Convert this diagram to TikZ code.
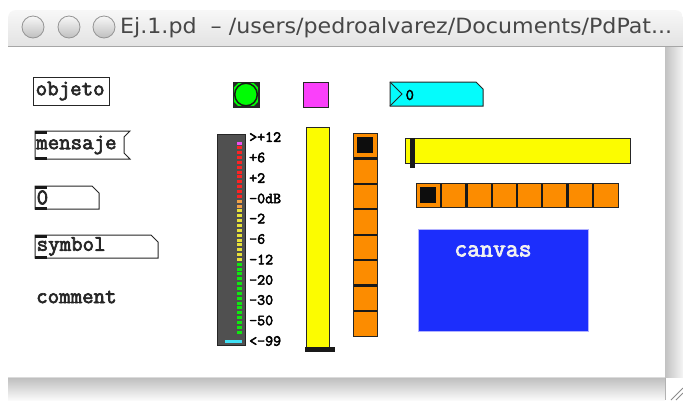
\documentclass[tikz,border=0pt]{standalone}
\usepackage{fontspec}
\usepackage{graphicx}
\newfontfamily\titlefont{DejaVu Sans}
\newfontfamily\pdfont{Latin Modern Mono}[FakeBold=3]

\definecolor{pdgreen}{RGB}{0,252,4}
\definecolor{pdmagenta}{RGB}{250,64,250}
\definecolor{pdcyan}{RGB}{4,252,252}
\definecolor{pdyellow}{RGB}{252,252,0}
\definecolor{pdorange}{RGB}{252,140,0}
\definecolor{pdblue}{RGB}{28,46,252}
\definecolor{vugray}{RGB}{80,80,80}
\definecolor{ledred}{RGB}{252,36,36}
\definecolor{ledorange}{RGB}{244,160,72}
\definecolor{ledyellow}{RGB}{232,226,56}
\definecolor{ledgreen}{RGB}{16,232,16}
\definecolor{ledtop}{RGB}{240,80,240}
\definecolor{ledcyan}{RGB}{64,224,244}

\tikzset{
  pdbox/.style={draw=black!85, line width=1pt},
  pdtext/.style={font=\pdfont\fontsize{22.3}{23}\selectfont, inner sep=0pt, anchor=west, text=black!85},
  vulabel/.style={font=\pdfont\fontsize{15.5}{16}\selectfont, inner sep=0pt, anchor=west},
  knob/.style={fill=black!90},
  separator/.style={draw=black!90, line width=2.2pt},
  winbutton/.style={draw=black!42, line width=0.8pt, top color=black!3, bottom color=black!25},
}

\begin{document}
\begin{tikzpicture}[x=1pt, y=-1pt]
\useasboundingbox (0,0) rectangle (683,400);
\fill[white] (0,0) rectangle (683,400);

% window title bar
\shade[top color=black!3, bottom color=black!11]
  (8,46) [rounded corners=8pt] -- (8,10) -- (683,10) [sharp corners] -- (683,46) -- cycle;
\draw[black!35] (8,46.5) -- (683,46.5);
\draw[winbutton] (33,27) circle[radius=11pt];
\draw[winbutton] (69,27) circle[radius=11pt];
\draw[winbutton] (104,27) circle[radius=11pt];
\node[anchor=west, inner sep=0pt, text=black!72] (title) at (120,28)
  {\resizebox{552pt}{\height}{\titlefont\fontsize{21}{21}\selectfont Ej.1.pd\ \ – /users/pedroalvarez/Documents/PdPat...}};

% window frame: right strip, bottom strip, resize corner
\shade[left color=black!24, right color=black!4] (665,47) rectangle (683,377);
\shade[top color=black!26, bottom color=black!2] (8,377) rectangle (665,400);
\draw[black!14] (8,377.5) -- (665,377.5);
\fill[white] (665,378) rectangle (683,400);
\draw[black!30] (665,378) -- (665,400);
\draw[black!45, line width=0.8pt] (671,400) -- (683,388);
\draw[black!45, line width=0.8pt] (676,400) -- (683,393);

% object box
\draw[pdbox] (33,77) rectangle (109,105);
\node[pdtext] (objeto) at (35.5,91) {objeto};

% message box
\draw[pdbox] (35,131) -- (130,131) -- (124,137) -- (124,153) -- (130,159) -- (35,159) -- cycle;
\fill[black!90] (35,130.5) rectangle (47,133.5);
\fill[black!90] (35,156.5) rectangle (47,159.5);
\node[pdtext] (mensaje) at (36,145) {mensaje};

% number atom
\draw[pdbox] (35,186) -- (92,186) -- (99,193) -- (99,209) -- (35,209) -- cycle;
\fill[black!90] (35,185.5) rectangle (47,188.5);
\fill[black!90] (35,206.5) rectangle (47,209.5);
\node[pdtext] (numero) at (36.5,197.5) {0};

% symbol atom
\draw[pdbox] (35,235) -- (151,235) -- (158,242) -- (158,258) -- (35,258) -- cycle;
\fill[black!90] (35,234.5) rectangle (47,237.5);
\fill[black!90] (35,255.5) rectangle (47,258.5);
\node[pdtext] (simbolo) at (36.5,246.5) {symbol};

% comment
\node[pdtext] (comentario) at (36,297) {comment};

% bang
\draw[pdbox, fill=black!85] (233,82) rectangle (259,107);
\fill[pdgreen] (234.2,83.2) rectangle (257.8,105.8);
\fill[black!85] (233,82) -- (239,82) -- (233,88) -- cycle;
\fill[black!85] (259,82) -- (253,82) -- (259,88) -- cycle;
\fill[black!85] (233,107) -- (239,107) -- (233,101) -- cycle;
\fill[black!85] (259,107) -- (253,107) -- (259,101) -- cycle;
\draw[draw=black!90, line width=1.5pt, fill=pdgreen] (246,94.5) circle[radius=11.3pt];

% toggle
\draw[pdbox, fill=pdmagenta] (303,82) rectangle (328,107);

% number2 box
\draw[pdbox, fill=pdcyan] (390,82) -- (476,82) -- (483,89) -- (483,106) -- (390,106) -- cycle;
\draw[black!85, line width=1pt] (390,82) -- (402,94) -- (390,106);
\node[vulabel, font=\pdfont\fontsize{16}{16}\selectfont] (nbx) at (405.5,95) {0};

% VU meter
\draw[pdbox, fill=vugray] (217,134) rectangle (245,345);
\fill[ledtop] (237,141.5) rectangle (242,144.5);
\foreach \i in {1,...,39} {
  \pgfmathsetmacro{\yy}{141.5+\i*4.85}
  \ifnum\i<12
    \fill[ledred] (237,\yy) rectangle (242,\yy+3);
  \else\ifnum\i<14
    \fill[ledorange] (237,\yy) rectangle (242,\yy+3);
  \else\ifnum\i<25
    \fill[ledyellow] (237,\yy) rectangle (242,\yy+3);
  \else
    \fill[ledgreen] (237,\yy) rectangle (242,\yy+3);
  \fi\fi\fi
}
\fill[ledcyan] (225,339.5) rectangle (242,342.5);
\foreach \lab/\yy [count=\k] in {>+12/137, +6/157.5, +2/178, -0dB/198.5, -2/218.5, -6/239,
    -12/259.5, -20/280, -30/300, -50/320.5, <-99/341} {
  \node[vulabel] (vu\k) at (249,\yy) {\lab};
}

% vertical slider
\draw[pdbox, fill=pdyellow] (306,127) rectangle (329,347);
\fill[knob] (305,347) rectangle (335,351.5);

% vertical radio
\foreach \i in {0,...,7} {
  \fill[pdorange] (353,133+\i*25.4) rectangle (377,133+\i*25.4+25.4);
}
\foreach \i in {1,...,7} {
  \draw[separator] (353,133+\i*25.4) -- (377,133+\i*25.4);
}
\draw[pdbox] (353,133) rectangle (377,336.2);
\fill[black!95] (357,137) rectangle (373,153);

% horizontal slider
\draw[pdbox, fill=pdyellow] (405,138) rectangle (630,163);
\fill[knob] (409.5,138) rectangle (414.5,168);

% horizontal radio
\foreach \i in {0,...,7} {
  \fill[pdorange] (416+\i*25.25,183) rectangle (416+\i*25.25+25.25,207);
}
\foreach \i in {1,...,7} {
  \draw[separator] (416+\i*25.25,183) -- (416+\i*25.25,207);
}
\draw[pdbox] (416,183) rectangle (618,207);
\fill[black!95] (420,187) rectangle (436,203);

% canvas
\fill[pdblue] (418,229) rectangle (588,331);
\draw[blue!30!white, line width=0.6pt] (418,229) rectangle (588,331);
\node[inner sep=0pt, text=black!6, font=\pdfont\fontsize{25}{25}\selectfont] (canvas) at (493,251) {canvas};
\end{tikzpicture}
\end{document}
